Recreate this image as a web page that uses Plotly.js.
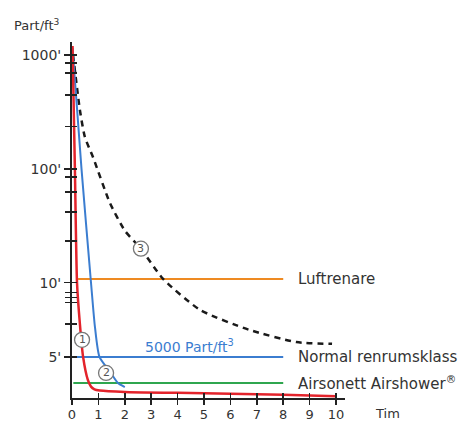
<!DOCTYPE html>
<html>
<head>
<meta charset="utf-8">
<script src="https://cdn.plot.ly/plotly-3.0.1.min.js"></script>
<style>html,body{margin:0;padding:0;background:#fff;}#chart{width:465px;height:423px;}</style>
</head>
<body>
<div id="chart"></div>
<script>
// ---- data (hours vs particles) ----
const redHours  = [0.02, 0.11, 0.19, 0.3, 0.42, 0.6, 0.72, 0.85, 1.05, 2, 4, 6, 8, 10];
const redVals   = [1200, 100, 10, 7.2, 5, 3.45, 3.0, 2.82, 2.74, 2.64, 2.58, 2.52, 2.45, 2.35];
const blueHours = [0.02, 0.36, 0.72, 0.87, 1.04, 1.47, 1.74, 2.0];
const blueVals  = [1150, 100, 10, 7.0, 5, 3.92, 3.24, 2.97];
const dashHours = [0.04, 0.3, 0.49, 0.8, 1.44, 2.0, 2.61, 3.45, 4.85, 6.7, 8.5, 9.85];
const dashVals  = [1000, 328, 190, 126, 50, 28.7, 19.9, 10.8, 8.17, 6.83, 6.0, 5.88];
const levelNames  = ["Luftrenare", "Normal renrumsklass", "Airsonett Airshower<sup>®</sup>"];
const levelVals   = [10.8, 5, 3.24];
const levelStart  = [0.23, 0, 0.05];
const levelEnd    = [8, 8, 8];
const xTickVals   = [0,1,2,3,4,5,6,7,8,9,10];
const yLabelVals  = [1000, 100, 10, 5];
const yLabelText  = ["1000'", "100'", "10'", "5'"];
const yMinorVals  = [850, 694, 444, 237, 85, 62.7, 41.8, 23.2, 9.33, 8.99, 8.65, 7.23];
const circleLabels = ["1", "2", "3"];
const circleHours  = [0.38, 1.29, 2.61];
const circleVals   = [6.15, 3.92, 19.9];

// axis transform: logarithmic above 10, linear-compressed below 10 (as drawn)
function t(v){ return v >= 10 ? Math.log10(v) : 1 - (10 - v) * 0.1304; }

const colRed = "#e3232b", colBlue = "#3b7dd0", colOrange = "#ee8a22", colGreen = "#2fa64f";
const levelCols = [colOrange, colBlue, colGreen];
const FONT = "DejaVu Sans";

const traces = [];
for (let i = 0; i < levelVals.length; i++) {
  traces.push({x:[levelStart[i], levelEnd[i]], y:[t(levelVals[i]), t(levelVals[i])], mode:"lines",
    line:{color:levelCols[i], width:2}, hoverinfo:"skip"});
}
traces.push({x:dashHours, y:dashVals.map(t), mode:"lines", line:{color:"#1a1a1a", width:2.5, dash:"6px,5px", shape:"spline", smoothing:0.6}});
traces.push({x:blueHours, y:blueVals.map(t), mode:"lines", line:{color:colBlue, width:2, shape:"spline", smoothing:0.6}});
traces.push({x:redHours, y:redVals.map(t), mode:"lines", line:{color:colRed, width:2.5, shape:"spline", smoothing:0.6}});
// invisible carriers so the overlay tick axes get drawn
traces.push({x:[0], y:[0], xaxis:"x2", yaxis:"y2", mode:"markers", marker:{opacity:0}, hoverinfo:"skip"});
traces.push({x:[0], y:[0], xaxis:"x", yaxis:"y3", mode:"markers", marker:{opacity:0}, hoverinfo:"skip"});

const yAll = yLabelVals.concat(yMinorVals);
const yr = [-0.013, 3.115];
const xr = [0, 10.34];

const shapes = circleLabels.map((c, i) => ({type:"circle", xref:"x", yref:"y", xsizemode:"pixel", ysizemode:"pixel",
  xanchor:circleHours[i], yanchor:t(circleVals[i]), x0:-7.5, x1:7.5, y0:-7.5, y1:7.5,
  line:{color:"#777", width:1.3}, fillcolor:"#fff", layer:"above"}));

const annotations = [];
circleLabels.forEach((c, i) => annotations.push({x:circleHours[i], y:t(circleVals[i]), xref:"x", yref:"y", text:c,
  showarrow:false, font:{family:FONT, size:11, color:"#555"}}));
levelNames.forEach((n, i) => annotations.push({x:8.5, y:t(levelVals[i]), xref:"x", yref:"y", text:n, xanchor:"left",
  showarrow:false, font:{family:FONT, size:15, color:"#333"}}));
annotations.push({x:2.7, y:t(levelVals[1]), yshift:11, xref:"x", yref:"y", text:"5000 Part/ft<sup>3</sup>", xanchor:"left",
  showarrow:false, font:{family:FONT, size:14, color:colBlue}});
annotations.push({x:-0.22, y:1.076, xref:"paper", yref:"paper", text:"Part/ft<sup>3</sup>", xanchor:"left",
  showarrow:false, font:{family:FONT, size:13, color:"#333"}});
annotations.push({x:1.103, y:0, yshift:-15, xref:"paper", yref:"paper", text:"Tim", xanchor:"left", yanchor:"middle",
  showarrow:false, font:{family:FONT, size:13, color:"#333"}});

const tickCommon = {tickwidth:1.5, tickcolor:"#222", showgrid:false, zeroline:false};
const layout = {
  width:465, height:423, paper_bgcolor:"#fff", plot_bgcolor:"#fff", showlegend:false,
  margin:{l:72, r:120, t:42, b:25},
  xaxis:Object.assign({range:xr, tickvals:xTickVals, ticktext:xTickVals.map(String), ticks:"outside", ticklen:5,
    showline:true, linecolor:"#222", linewidth:2, ticklabelstandoff:-2,
    tickfont:{family:FONT, size:13, color:"#333"}}, tickCommon),
  xaxis2:Object.assign({range:xr, overlaying:"x", anchor:"y", side:"bottom", tickvals:xTickVals.slice(1), ticks:"inside",
    ticklen:5, showticklabels:false, showline:false}, tickCommon),
  yaxis:Object.assign({range:yr, tickvals:yLabelVals.map(t), ticktext:yLabelText, ticks:"outside", ticklen:6,
    showline:true, linecolor:"#222", linewidth:2, tickfont:{family:FONT, size:14, color:"#333"}}, tickCommon),
  yaxis2:Object.assign({range:yr, overlaying:"y", anchor:"x", side:"left", tickvals:yAll.map(t), ticks:"inside",
    ticklen:5, showticklabels:false, showline:false}, tickCommon),
  yaxis3:Object.assign({range:yr, overlaying:"y", anchor:"x", side:"left", tickvals:yMinorVals.map(t), ticks:"outside",
    ticklen:6, showticklabels:false, showline:false}, tickCommon),
  shapes:shapes, annotations:annotations
};
Plotly.newPlot("chart", traces, layout, {staticPlot:true, displayModeBar:false});
</script>
</body>
</html>
